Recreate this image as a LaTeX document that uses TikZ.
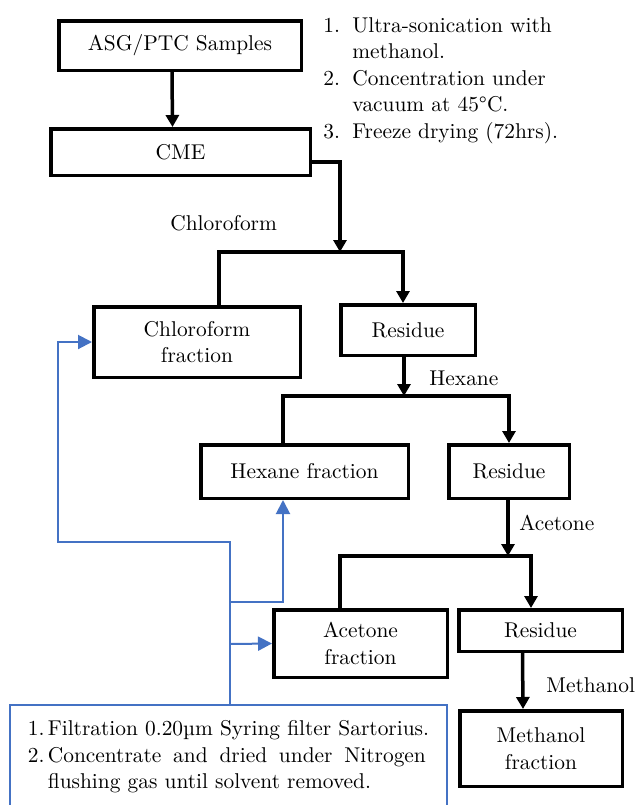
\documentclass[tikz,border=0pt]{standalone}
\usetikzlibrary{arrows.meta}
\definecolor{noteblue}{HTML}{4472C4}
\begin{document}
\begin{tikzpicture}[x=0.5pt, y=-0.5pt, >={Triangle[length=6pt,width=6.5pt]},
    font=\fontsize{10.7}{13.25}\selectfont,
    box/.style={draw, line width=1.75pt, inner sep=0pt, align=center},
    lbl/.style={anchor=west, inner sep=0pt},
    flow/.style={draw=noteblue, line width=1pt, -{Triangle[length=7pt,width=7pt]}}]
    \useasboundingbox (0,0) rectangle (638,805);

    % extraction steps
    \node[box, minimum width=121.25pt, minimum height=24.75pt] (samples) at (180,45.5) {ASG/PTC Samples};
    \node[box, minimum width=129.75pt, minimum height=23.25pt] (cme) at (180.5,152) {CME};
    \node[inner sep=0pt, anchor=west] (steps) at (323,80) {\begin{tabular}{@{}p{14.5pt}@{}l@{}}
        1. & Ultra-sonication with\\ & methanol.\\
        2. & Concentration under\\ & vacuum at 45°C.\\
        3. & Freeze drying (72hrs).\end{tabular}};

    % fractions
    \node[box, minimum width=103.25pt, minimum height=35.25pt] (chlf) at (197,342) {Chloroform\\fraction};
    \node[box, minimum width=67.25pt, minimum height=25.25pt] (res1) at (408,330) {Residue};
    \node[box, minimum width=103.75pt, minimum height=26.75pt] (hexf) at (304.5,471.5) {Hexane fraction};
    \node[box, minimum width=60.25pt, minimum height=26.75pt] (res2) at (509,471.5) {Residue};
    \node[box, minimum width=86.75pt, minimum height=33.75pt] (acef) at (360.5,643.5) {Acetone\\fraction};
    \node[box, minimum width=81.75pt, minimum height=20.75pt] (res3) at (540.5,630.5) {Residue};
    \node[box, minimum width=81.25pt, minimum height=37.75pt] (metf) at (541,748.5) {Methanol\\fraction};

    % solvents
    \node[lbl] (lblchl) at (170,223) {Chloroform};
    \node[lbl] (lblhex) at (429,378) {Hexane};
    \node[lbl] (lblace) at (519,523) {Acetone};
    \node[lbl] (lblmet) at (546,685) {Methanol};

    % filtration note
    \node[draw=noteblue, line width=1pt, inner sep=0pt, minimum width=218.5pt, minimum height=52pt] (note) at (228.5,757) {\begin{tabular}{@{}p{10pt}@{}l@{}}
        1. & Filtration 0.20µm Syring filter Sartorius.\\
        2. & \makebox[189pt][s]{Concentrate and dried under Nitrogen}\\
           & flushing gas until solvent removed.\end{tabular}};

    \coordinate (split1) at (340,252);
    \coordinate (split2) at (404,396);
    \coordinate (split3) at (508,556);
    \coordinate (bend) at (58,542);
    \coordinate (tap1) at (230,602);
    \coordinate (tap2) at (230,644);

    % arrows
    \draw[->, line width=1.75pt] ([xshift=-4pt]samples.south) -- ([xshift=-4pt]cme.north);
    \draw[->, line width=1.75pt] ([yshift=-5pt]cme.east) -| (split1);
    \draw[->, line width=1.75pt] ([xshift=11pt]chlf.north) |- (split1) -| ([xshift=-2.5pt]res1.north);
    \draw[->, line width=1.75pt] ([xshift=-2pt]res1.south) -- (split2);
    \draw[->, line width=1.75pt] ([xshift=-10.75pt]hexf.north) |- (split2) -| (res2.north);
    \draw[->, line width=1.75pt] ([xshift=-0.5pt]res2.south) -- (split3);
    \draw[->, line width=1.75pt] ([xshift=-10.25pt]acef.north) |- (split3) -| ([xshift=-4.75pt]res3.north);
    \draw[->, line width=1.75pt] ([xshift=-9pt]res3.south) -- ([xshift=-9pt]metf.north);

    % back to the fractions
    \draw[flow] ([xshift=0.75pt]note.north) |- (bend) |- (chlf.west);
    \draw[flow] (tap1) -| ([xshift=-10.75pt]hexf.south);
    \draw[flow] (tap2) -- (acef.west);

\end{tikzpicture}
\end{document}
